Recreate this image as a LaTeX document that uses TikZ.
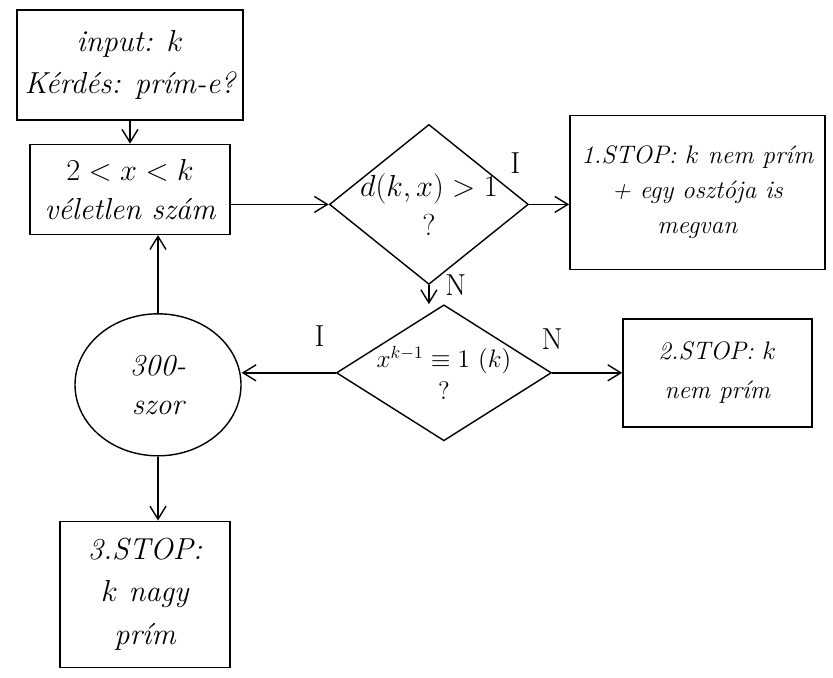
\documentclass[tikz,border=0pt]{standalone}
\usepackage{amsmath}
\usetikzlibrary{arrows.meta,positioning,shapes.geometric}
\tikzset{
  procBox/.style={draw=black, thick, align=center, inner sep=2pt,
    font=\LARGE\itshape},
  stopBox/.style={procBox, font=\Large\itshape},
  decBox/.style={diamond, draw=black, thick, align=center, inner sep=-0.5cm,
    aspect=1.5, font=\LARGE},
  loopNode/.style={ellipse, draw=black, thick, align=center,
    minimum width=3.32cm, minimum height=2.84cm, font=\LARGE\itshape},
  flowArc/.style={-{Straight Barb[length=2.6mm,width=3.2mm]}, thick},
  branchLabel/.style={font=\LARGE},
}

\begin{document}
\begin{tikzpicture}
    \useasboundingbox (0,0) rectangle (16.66,-13.54);
    \node[procBox, minimum width=4.52cm, minimum height=2.2cm] (input) at (2.6,-1.3)
      {input: $k$\\[2pt] Kérdés: prím-e?};
    \node[procBox, minimum width=4.0cm, minimum height=1.8cm, below=0.46cm of input] (rand)
      {$2<x<k$\\ véletlen szám};
    \node[decBox, minimum width=3.98cm, minimum height=3.2cm, right=1.96cm of rand, yshift=-0.3cm] (gcd)
      {$d(k,x)>1$\\ ?};
    \node[stopBox, minimum width=5.1cm, minimum height=3.08cm, right=0.8cm of gcd, yshift=0.24cm] (stopA)
      {1.STOP: $k$ nem prím\\[2pt] + egy osztója is\\[2pt] megvan};
    \node[decBox, font=\Large, minimum width=4.3cm, minimum height=2.72cm, below=0.38cm of gcd, xshift=0.3cm] (fermat)
      {$x^{k-1}\equiv 1\ (k)$\\ ?};
    \node[stopBox, minimum width=3.78cm, minimum height=2.16cm, right=1.4cm of fermat] (stopB)
      {2.STOP: $k$\\[4pt] nem prím};
    \node[loopNode, left=1.88cm of fermat, yshift=-0.24cm] (loop) {300-\\ szor};
    \node[procBox, minimum width=3.4cm, minimum height=2.92cm, below=1.28cm of loop, xshift=-0.26cm] (stopC)
      {3.STOP:\\[2pt] $k$ nagy\\[2pt] prím};
    % flow
    \draw[flowArc] (input.south) -- (rand.north);
    \draw[flowArc] (rand.east |- gcd.west) -- (gcd.west);
    \draw[flowArc] (gcd.east) -- (gcd.east -| stopA.west);
    \draw[flowArc] (gcd.south) -- (fermat.north -| gcd.south);
    \draw[flowArc] (fermat.east) -- (fermat.east -| stopB.west);
    \draw[flowArc] (fermat.west) -- (fermat.west -| loop.east);
    \draw[flowArc] (loop.north) -- (loop.north |- rand.south);
    \draw[flowArc] (loop.south) -- (loop.south |- stopC.north);
    % branch labels
    \node[branchLabel, above left=0.5cm and 0.05cm of gcd.east] (gcdYes) {I};
    \node[branchLabel, right=0.2cm of gcd.south] (gcdNo) {N};
    \node[branchLabel, above left=0.4cm and 0.1cm of fermat.west] (fermatYes) {I};
    \node[branchLabel, above=0.35cm of fermat.east] (fermatNo) {N};
\end{tikzpicture}
\end{document}
